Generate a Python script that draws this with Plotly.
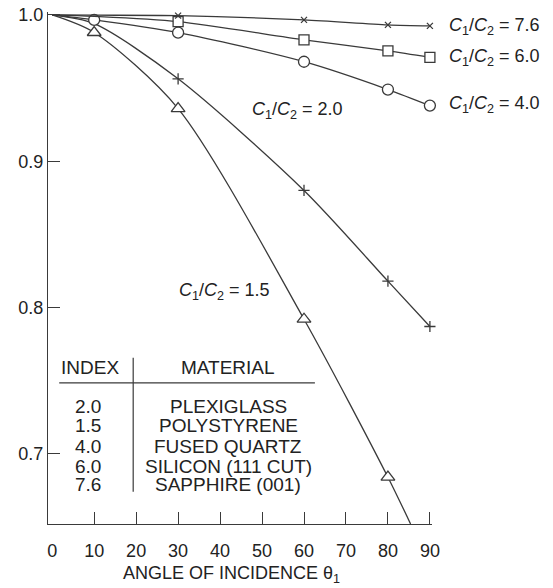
import plotly.graph_objects as go

# ---- data ----
angles = [0, 10, 30, 60, 80, 90]
r76 = [1.0, 0.9998, 0.9995, 0.9966, 0.9932, 0.9925]
r60 = [1.0, 0.999, 0.9954, 0.983, 0.9754, 0.971]
r40 = [1.0, 0.9966, 0.9879, 0.968, 0.949, 0.938]
r20 = [1.0, 0.994, 0.9563, 0.880, 0.818, 0.787]
angles15 = [0, 10, 30, 60, 80, 85.4]
r15 = [1.0, 0.988, 0.936, 0.792, 0.684, 0.652]

marker_idx76 = [2, 3, 4, 5]
marker_idx60 = [2, 3, 4, 5]
marker_idx40 = [1, 2, 3, 4, 5]
marker_idx20 = [2, 3, 4, 5]
marker_idx15 = [1, 2, 3, 4]

ratio_labels = ["7.6", "6.0", "4.0", "2.0", "1.5"]
table_index = ["2.0", "1.5", "4.0", "6.0", "7.6"]
table_material = ["PLEXIGLASS", "POLYSTYRENE", "FUSED QUARTZ", "SILICON (111 CUT)", "SAPPHIRE (001)"]
x_ticks = [0, 10, 20, 30, 40, 50, 60, 70, 80, 90]
y_ticks = [0.7, 0.8, 0.9, 1.0]

LC = "#3a3a3a"
TC = "#222"
FONT = "Liberation Sans, Arial, sans-serif"

fig = go.Figure()

def add_curve(xs, ys, idx, symbol, size, filled=True):
    fig.add_trace(go.Scatter(x=xs, y=ys, mode="lines",
                             line=dict(color=LC, width=1.3, shape="spline", smoothing=0.8),
                             hoverinfo="skip", showlegend=False))
    mx = [xs[i] for i in idx]
    my = [ys[i] for i in idx]
    fig.add_trace(go.Scatter(x=mx, y=my, mode="markers",
                             marker=dict(symbol=symbol, size=size,
                                         color="white" if filled else LC,
                                         line=dict(color=LC, width=1.3)),
                             showlegend=False, cliponaxis=False))

add_curve(angles15, r15, marker_idx15, "triangle-up", 12)
add_curve(angles, r20, marker_idx20, "cross-thin", 8, filled=False)
add_curve(angles, r40, marker_idx40, "circle", 11)
add_curve(angles, r60, marker_idx60, "square", 10)
add_curve(angles, r76, marker_idx76, "x-thin", 6, filled=False)

def ratio_text(v):
    return "<i>C</i><sub>1</sub>/<i>C</i><sub>2</sub> = " + v

anns = []
# right-side labels in paper coords (outside the x range)
right_y = [0.9918, 0.9706, 0.9385]
for lab, ly in zip(ratio_labels[:3], right_y):
    anns.append(dict(x=1.039, y=ly, xref="paper", yref="y", text=ratio_text(lab), showarrow=False,
                     xanchor="left", yanchor="middle", font=dict(size=18, color=TC, family=FONT)))
inner_pos = [(47.1, 0.935), (29.8, 0.8107)]
for lab, (lx, ly) in zip(ratio_labels[3:], inner_pos):
    anns.append(dict(x=lx, y=ly, xref="x", yref="y", text=ratio_text(lab), showarrow=False,
                     xanchor="left", yanchor="middle", font=dict(size=18, color=TC, family=FONT)))

# table
anns.append(dict(x=9.0, y=0.7587, text="INDEX", showarrow=False, xanchor="center", yanchor="middle",
                 font=dict(size=19, color=TC, family=FONT)))
anns.append(dict(x=41.9, y=0.7587, text="MATERIAL", showarrow=False, xanchor="center", yanchor="middle",
                 font=dict(size=19, color=TC, family=FONT)))
row_y = [0.7321, 0.7191, 0.7047, 0.6910, 0.6787]
for iv, mat, ry in zip(table_index, table_material, row_y):
    anns.append(dict(x=8.6, y=ry, text=iv, showarrow=False, xanchor="center", yanchor="middle",
                     font=dict(size=19, color=TC, family=FONT)))
    anns.append(dict(x=41.9, y=ry, text=mat, showarrow=False, xanchor="center", yanchor="middle",
                     font=dict(size=19, color=TC, family=FONT)))

# x title
anns.append(dict(x=0.477, y=-0.099, xref="paper", yref="paper", text="ANGLE OF INCIDENCE θ<sub>1</sub>",
                 showarrow=False, xanchor="center", yanchor="middle",
                 font=dict(size=18, color=TC, family=FONT)))

shapes = [
    dict(type="line", x0=1.67, x1=62.6, y0=0.7485, y1=0.7485, xref="x", yref="y",
         line=dict(color=LC, width=1.2)),
    dict(type="line", x0=19.3, x1=19.3, y0=0.7656, y1=0.674, xref="x", yref="y",
         line=dict(color=LC, width=1.2)),
]

fig.update_layout(
    width=545, height=580,
    margin=dict(l=40, r=121, t=4, b=64, autoexpand=False),
    paper_bgcolor="white", plot_bgcolor="white",
    annotations=anns, shapes=shapes,
    font=dict(family=FONT, size=18, color=TC),
    xaxis=dict(range=[-1, 90.5], showgrid=False, zeroline=False, showline=True, automargin=False,
               linecolor=LC, linewidth=1.3, tickmode="array", tickvals=x_ticks,
               ticks="", ticklabelstandoff=10,
               minor=dict(tickmode="array", tickvals=x_ticks[1:], ticks="inside",
                          ticklen=12, tickcolor=LC, tickwidth=1.2),
               tickfont=dict(size=18, family=FONT, color=TC)),
    yaxis=dict(range=[0.652, 1.002], showgrid=False, zeroline=False, showline=True, automargin=False,
               linecolor=LC, linewidth=1.3, tickmode="array", tickvals=y_ticks,
               ticktext=[f"{v:.1f}" for v in y_ticks], ticklabeloverflow="allow",
               ticks="inside", ticklen=12, tickcolor=LC, tickwidth=1.2,
               tickfont=dict(size=18, family=FONT, color=TC)),
)

fig.write_html("out.html")
